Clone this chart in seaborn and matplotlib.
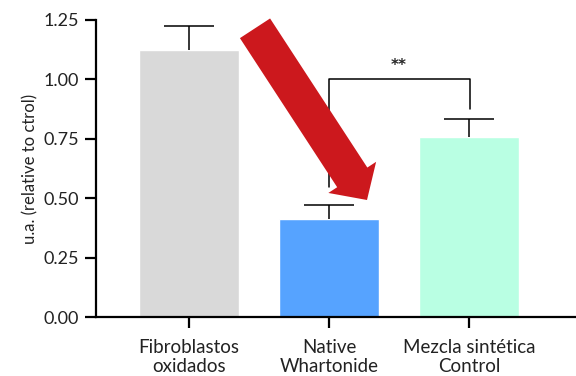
import numpy as np
import pandas as pd
import seaborn as sns
import matplotlib.pyplot as plt
import matplotlib.patches as mpatches

# datos
grupos = ['Fibroblastos\noxidados', 'Native\nWhartonide', 'Mezcla sintética\nControl']
medias = [1.125, 0.412, 0.757]
errores = [0.100, 0.060, 0.076]
colores = ['#D9D9D9', '#56A3FF', '#B9FFE3']
yticks = [0.00, 0.25, 0.50, 0.75, 1.00, 1.25]

sns.set_theme(style='ticks')
plt.rcParams['font.family'] = ['Lato', 'DejaVu Sans']

df = pd.DataFrame({'grupo': grupos, 'valor': medias})

fig = plt.figure(figsize=(5.76, 3.76), dpi=100)
ax = fig.add_axes([96 / 576, 1 - 317 / 376, 1 - 96 / 576, (317 - 20) / 376])

sns.barplot(data=df, x='grupo', y='valor', hue='grupo', palette=colores,
            legend=False, errorbar=None, width=0.714, saturation=1, ax=ax)

# barras de error (solo hacia arriba, sin tapa abajo)
x = np.arange(len(grupos))
_, tapas, _ = ax.errorbar(x, medias, yerr=[np.zeros(len(errores)), errores], fmt='none',
                          ecolor='black', elinewidth=1.1, capsize=18, capthick=1.1)
tapas[0].set_visible(False)

# corchete de significancia
ax.plot([1, 1, 2.01, 2.01], [0.547, 1.002, 1.002, 0.875], color='black', lw=1.1)
ax.text(1.5, 1.058, '**', ha='center', va='center', fontsize=11, fontweight='bold',
        family='DejaVu Sans')

# flecha roja (en pulgadas de la figura)
flecha = mpatches.FancyArrow(2.55, 3.477, 1.12, -1.717, width=0.36, head_width=0.57,
                             head_length=0.27, length_includes_head=True,
                             color='#CC181D', lw=0, transform=fig.dpi_scale_trans)
fig.patches.append(flecha)

ax.set_xlim(-0.664, 2.764)
ax.set_ylim(0, 1.25)
ax.set_yticks(yticks)
ax.set_yticklabels([f'{v:.2f}' for v in yticks])
ax.set_xlabel('')
ax.set_ylabel('u.a. (relative to ctrol)', fontsize=12, color='#222222', labelpad=4)

sns.despine(ax=ax)
for s in ['left', 'bottom']:
    ax.spines[s].set_linewidth(1.6)
    ax.spines[s].set_color('black')
ax.tick_params(axis='both', length=8, width=1.6, color='black', labelsize=13,
               labelcolor='#222222', pad=4)
ax.tick_params(axis='x', labelsize=13.5, pad=8)
for t in ax.get_xticklabels():
    t.set_linespacing(1.15)

fig.savefig('out.png', dpi=100)
